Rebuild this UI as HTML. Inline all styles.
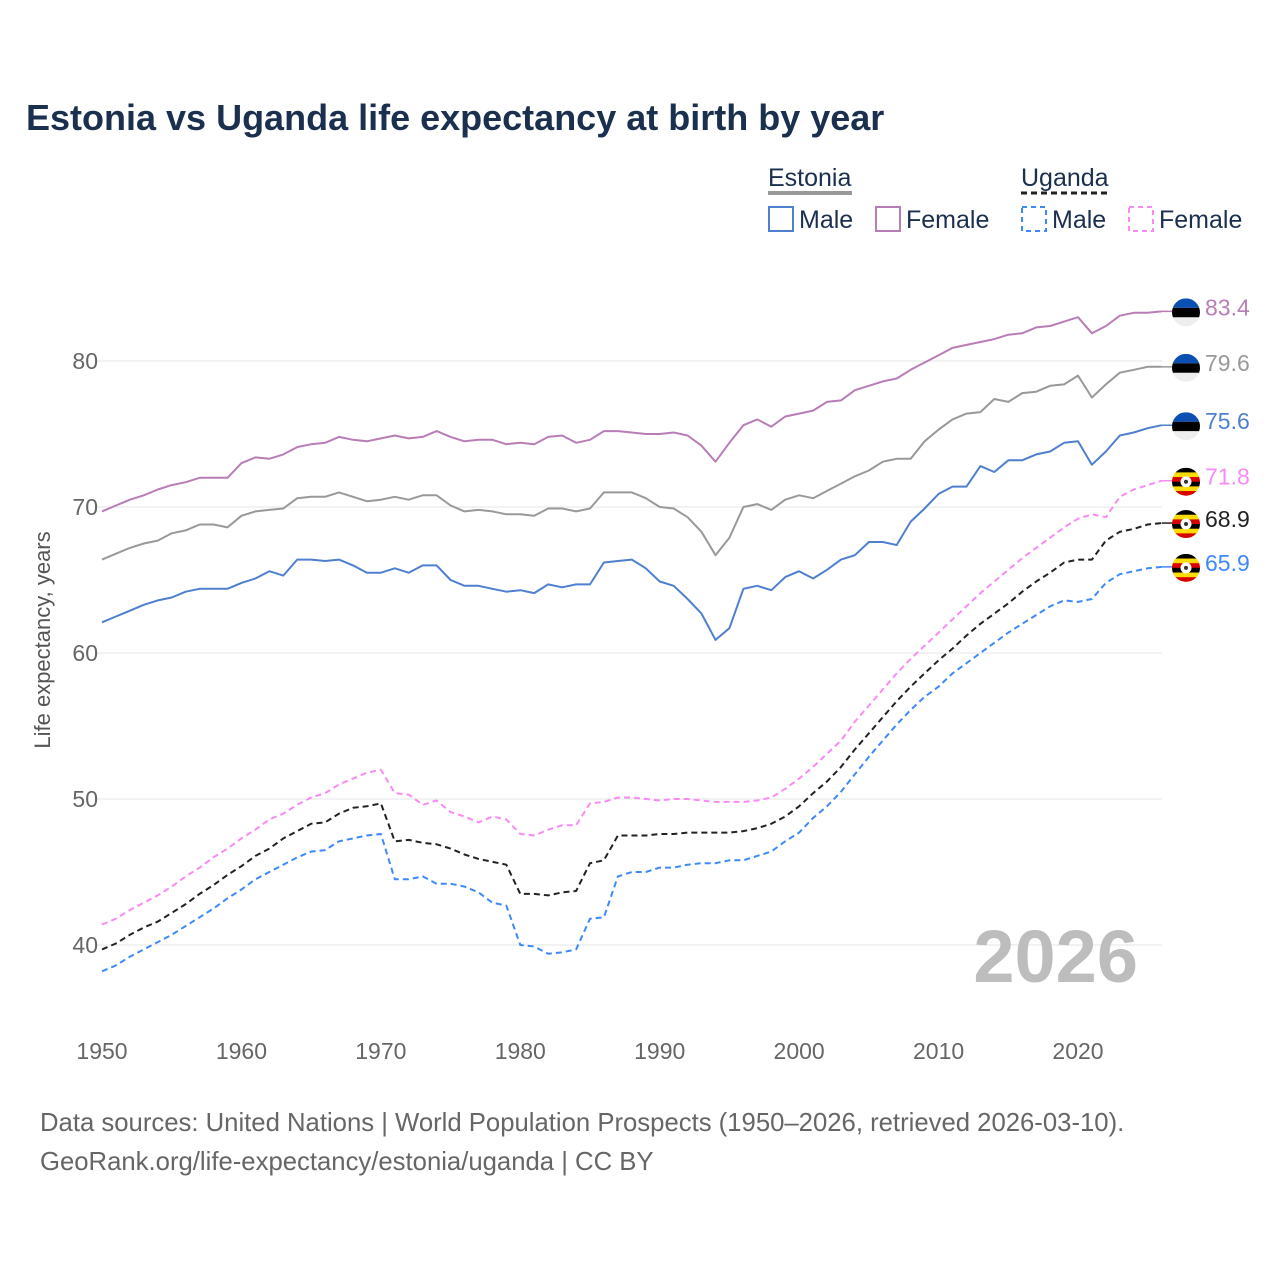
<!DOCTYPE html>
<html><head><meta charset="utf-8"><style>
body{margin:0;background:#fff;width:1280px;height:1280px;overflow:hidden;font-family:"Liberation Sans",sans-serif}
</style></head><body>
<svg id="chart" width="1280" height="1280" xmlns="http://www.w3.org/2000/svg">
<defs>
<clipPath id="fc"><circle cx="0" cy="0" r="14"/></clipPath>
</defs>
<text x="26" y="130" font-size="36" font-weight="bold" fill="#1b2f4e">Estonia vs Uganda life expectancy at birth by year</text>
<g id="legend" font-size="25" fill="#1b2f4e">
<text x="768" y="186">Estonia</text>
<line x1="768" y1="193" x2="852" y2="193" stroke="#999" stroke-width="4"/>
<text x="1021" y="186">Uganda</text>
<line x1="1021" y1="193" x2="1108" y2="193" stroke="#222" stroke-width="3" stroke-dasharray="6,4"/>
<g><rect x="769" y="207" width="24" height="24" fill="none" stroke="#4f7fcf" stroke-width="2"/><text x="799" y="228">Male</text></g>
<g><rect x="876" y="207" width="24" height="24" fill="none" stroke="#b97db6" stroke-width="2"/><text x="906" y="228">Female</text></g>
<g><rect x="1022" y="207" width="24" height="24" fill="none" stroke="#3d8af7" stroke-width="2" stroke-dasharray="5,4"/><text x="1052" y="228">Male</text></g>
<g><rect x="1129" y="207" width="24" height="24" fill="none" stroke="#f98af5" stroke-width="2" stroke-dasharray="5,4"/><text x="1159" y="228">Female</text></g>
</g>
<g id="grid"></g>
<text x="1138" y="982" font-size="74" font-weight="bold" fill="#bdbdbd" text-anchor="end">2026</text>
<g id="series"></g>
<g id="ends"></g>
<text transform="translate(50,640) rotate(-90)" font-size="22" fill="#555" text-anchor="middle">Life expectancy, years</text>
<text x="40" y="1131" font-size="25.7" fill="#666">Data sources: United Nations | World Population Prospects (1950–2026, retrieved 2026-03-10).</text>
<text x="40" y="1170" font-size="25.7" fill="#666">GeoRank.org/life-expectancy/estonia/uganda | CC BY</text>
</svg>
<script>
const years=[];for(let y=1950;y<=2026;y++)years.push(y);
const yTicks=[40,50,60,70,80];
const xTicks=[1950,1960,1970,1980,1990,2000,2010,2020];
const estFemale=[69.7,70.1,70.5,70.8,71.2,71.5,71.7,72.0,72.0,72.0,73.0,73.4,73.3,73.6,74.1,74.3,74.4,74.8,74.6,74.5,74.7,74.9,74.7,74.8,75.2,74.8,74.5,74.6,74.6,74.3,74.4,74.3,74.8,74.9,74.4,74.6,75.2,75.2,75.1,75.0,75.0,75.1,74.9,74.2,73.1,74.4,75.6,76.0,75.5,76.2,76.4,76.6,77.2,77.3,78.0,78.3,78.6,78.8,79.4,79.9,80.4,80.9,81.1,81.3,81.5,81.8,81.9,82.3,82.4,82.7,83.0,81.9,82.4,83.1,83.3,83.3,83.4];
const estTotal=[66.4,66.8,67.2,67.5,67.7,68.2,68.4,68.8,68.8,68.6,69.4,69.7,69.8,69.9,70.6,70.7,70.7,71.0,70.7,70.4,70.5,70.7,70.5,70.8,70.8,70.1,69.7,69.8,69.7,69.5,69.5,69.4,69.9,69.9,69.7,69.9,71.0,71.0,71.0,70.6,70.0,69.9,69.3,68.3,66.7,67.9,70.0,70.2,69.8,70.5,70.8,70.6,71.1,71.6,72.1,72.5,73.1,73.3,73.3,74.5,75.3,76.0,76.4,76.5,77.4,77.2,77.8,77.9,78.3,78.4,79.0,77.5,78.4,79.2,79.4,79.6,79.6];
const estMale=[62.1,62.5,62.9,63.3,63.6,63.8,64.2,64.4,64.4,64.4,64.8,65.1,65.6,65.3,66.4,66.4,66.3,66.4,66.0,65.5,65.5,65.8,65.5,66.0,66.0,65.0,64.6,64.6,64.4,64.2,64.3,64.1,64.7,64.5,64.7,64.7,66.2,66.3,66.4,65.8,64.9,64.6,63.7,62.7,60.9,61.7,64.4,64.6,64.3,65.2,65.6,65.1,65.7,66.4,66.7,67.6,67.6,67.4,69.0,69.9,70.9,71.4,71.4,72.8,72.4,73.2,73.2,73.6,73.8,74.4,74.5,72.9,73.8,74.9,75.1,75.4,75.6];
const ugaFemale=[41.4,41.8,42.4,42.9,43.4,44.0,44.7,45.3,46.0,46.6,47.3,47.9,48.6,49.0,49.6,50.1,50.4,51.0,51.4,51.8,52.0,50.4,50.3,49.6,49.9,49.1,48.8,48.4,48.8,48.6,47.6,47.5,47.9,48.2,48.2,49.7,49.8,50.1,50.1,50.0,49.9,50.0,50.0,49.9,49.8,49.8,49.8,49.9,50.1,50.7,51.4,52.2,53.1,54.0,55.3,56.4,57.5,58.6,59.6,60.5,61.4,62.3,63.2,64.1,64.9,65.7,66.5,67.2,67.9,68.6,69.2,69.5,69.3,70.7,71.2,71.5,71.8];
const ugaTotal=[39.7,40.1,40.7,41.2,41.6,42.2,42.8,43.5,44.1,44.8,45.4,46.1,46.6,47.3,47.8,48.3,48.4,49.0,49.4,49.5,49.7,47.1,47.2,47.0,46.9,46.6,46.2,45.9,45.7,45.5,43.5,43.5,43.4,43.6,43.7,45.6,45.8,47.5,47.5,47.5,47.6,47.6,47.7,47.7,47.7,47.7,47.8,48.0,48.3,48.8,49.5,50.4,51.2,52.2,53.4,54.5,55.6,56.7,57.7,58.6,59.5,60.3,61.2,62.0,62.7,63.4,64.2,64.9,65.5,66.2,66.4,66.4,67.7,68.3,68.5,68.8,68.9];
const ugaMale=[38.2,38.6,39.2,39.7,40.2,40.7,41.3,41.9,42.5,43.2,43.8,44.5,45.0,45.5,46.0,46.4,46.5,47.1,47.3,47.5,47.6,44.5,44.5,44.7,44.2,44.2,44.0,43.6,42.9,42.7,40.0,39.9,39.4,39.5,39.7,41.8,41.9,44.7,45.0,45.0,45.3,45.3,45.5,45.6,45.6,45.8,45.8,46.1,46.4,47.1,47.7,48.7,49.5,50.5,51.7,52.9,54.0,55.1,56.1,57.0,57.7,58.6,59.3,60.0,60.7,61.4,62.0,62.6,63.2,63.6,63.5,63.7,64.8,65.4,65.6,65.8,65.9];

const NS="http://www.w3.org/2000/svg";
const X=y=>102+(y-1950)*(1078-102)/70;
const Y=v=>945-(v-40)*14.6;
function mk(tag,attrs,parent){const e=document.createElementNS(NS,tag);for(const k in attrs)e.setAttribute(k,attrs[k]);parent.appendChild(e);return e;}
const grid=document.getElementById('grid');
yTicks.forEach(t=>{
  const l=mk('line',{x1:96,x2:1162,y1:Y(t),y2:Y(t),stroke:'#e6e6e6','stroke-width':1},grid);
  
  
  const tx=mk('text',{x:98,y:Y(t)+8,'font-size':23,fill:'#666','text-anchor':'end'},grid);
  tx.textContent=t;
  
  
});
xTicks.forEach(t=>{
  const tx=mk('text',{x:X(t),y:1059,'font-size':23,fill:'#666','text-anchor':'middle'},grid);
  tx.textContent=t;
  
  
});
const series=[
 {d:estFemale,c:'#b97db6',dash:null,n:'estonia-female',flag:'ee',lc:'#b97db6'},
 {d:estTotal,c:'#999',dash:null,n:'estonia-total',flag:'ee',lc:'#999'},
 {d:estMale,c:'#4f7fcf',dash:null,n:'estonia-male',flag:'ee',lc:'#4f7fcf'},
 {d:ugaFemale,c:'#f98af5',dash:'6,4',n:'uganda-female',flag:'ug',lc:'#f98af5'},
 {d:ugaTotal,c:'#222',dash:'6,4',n:'uganda-total',flag:'ug',lc:'#222'},
 {d:ugaMale,c:'#3d8af7',dash:'6,4',n:'uganda-male',flag:'ug',lc:'#3d8af7'}
];
const sg=document.getElementById('series'),eg=document.getElementById('ends');
series.forEach(s=>{
  const pts=s.d.map((v,i)=>X(years[i]).toFixed(1)+','+Y(v).toFixed(1)).join(' ');
  const a={points:pts,fill:'none',stroke:s.c,'stroke-width':2,'stroke-linejoin':'round'};
  if(s.dash)a['stroke-dasharray']=s.dash;
  const p=mk('polyline',a,sg);
  
  
  const last=s.d[s.d.length-1],ly=Y(last);
  mk('line',{x1:X(2026),x2:1174,y1:ly,y2:ly,stroke:s.c,'stroke-width':1.5},eg);
  const g=mk('g',{transform:'translate(1186,'+(ly+1)+')','clip-path':'url(#fc)'},eg);
  
  
  if(s.flag==='ee'){
    mk('rect',{x:-14,y:-14,width:28,height:9.5,fill:'#0b4fb3'},g);
    mk('rect',{x:-14,y:-4.5,width:28,height:9.5,fill:'#000'},g);
    mk('rect',{x:-14,y:5,width:28,height:9,fill:'#eee'},g);
  }else{
    const cols=['#000','#fcdc04','#d90000','#000','#fcdc04','#d90000'];
    cols.forEach((c,i)=>mk('rect',{x:-14,y:-14+i*28/6,width:28,height:28/6+0.3,fill:c},g));
    mk('circle',{cx:0,cy:0,r:5.5,fill:'#fff'},g);
    mk('circle',{cx:0,cy:0,r:2,fill:'#333'},g);
  }
  const t=mk('text',{x:1205,y:ly+4,'font-size':23,fill:s.lc},eg);
  t.textContent=last.toFixed(1);
  
  
});
</script>
</body></html>
